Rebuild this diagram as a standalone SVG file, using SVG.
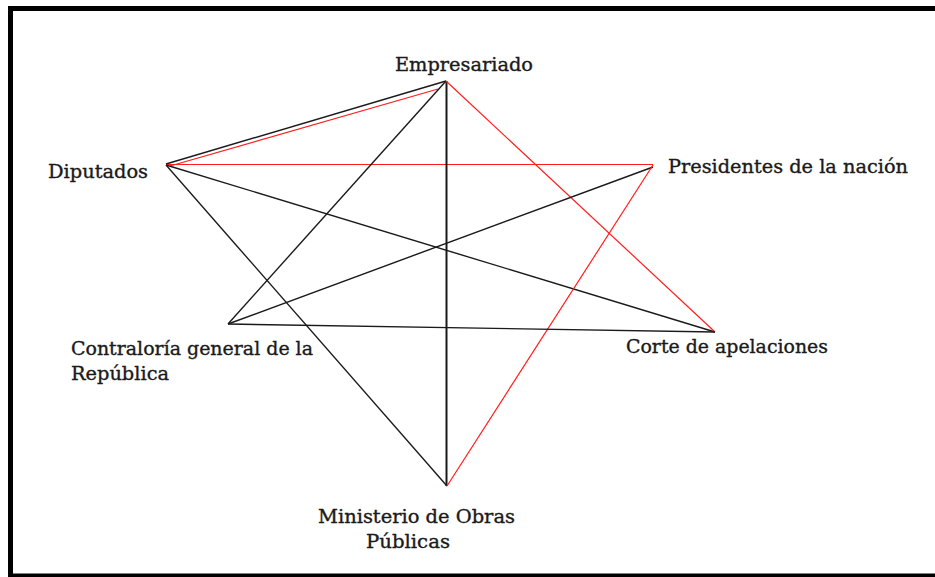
<svg xmlns="http://www.w3.org/2000/svg" width="935" height="577" viewBox="0 0 935 577">
<style>
.lbl{font-family:"DejaVu Serif","Liberation Serif",serif;font-size:19px;fill:#1a1a1a;stroke:#1a1a1a;stroke-width:0.35}
.k{stroke:#1a1a1a;stroke-width:1.4;fill:none}
.r{stroke:#ff1e1e;stroke-width:1.2;fill:none}
.frame{stroke:#000;stroke-width:5;fill:none}
</style>
<rect width="935" height="577" fill="#fff"/>
<g id="frame">
<line class="frame" x1="8" y1="8.5" x2="935" y2="8.5"/>
<line class="frame" x1="10.5" y1="6" x2="10.5" y2="577"/>
<line class="frame" x1="8" y1="576" x2="935" y2="576"/>
</g>
<g id="connectors">
<line class="k" x1="166" y1="164" x2="446" y2="81"/>
<line class="r" x1="170" y1="166" x2="438" y2="89"/>
<line class="r" x1="166" y1="164.5" x2="653" y2="164.5"/>
<line class="k" x1="166" y1="165" x2="715" y2="332"/>
<line class="k" x1="166" y1="165" x2="447" y2="486"/>
<line class="k" x1="446" y1="81" x2="228" y2="324"/>
<line class="k" x1="446.5" y1="81" x2="446.5" y2="486" style="stroke-width:2"/>
<line class="r" x1="446" y1="81" x2="715" y2="332"/>
<line class="k" x1="653" y1="167" x2="228" y2="324"/>
<line class="r" x1="653" y1="165" x2="447" y2="486"/>
<line class="k" x1="228" y1="324" x2="715" y2="332"/>
</g>
<g id="empresariado"><text class="lbl" x="395" y="71" textLength="138" lengthAdjust="spacingAndGlyphs">Empresariado</text></g>
<g id="diputados"><text class="lbl" x="48" y="178" textLength="100" lengthAdjust="spacingAndGlyphs">Diputados</text></g>
<g id="presidentes"><text class="lbl" x="668" y="173" textLength="240" lengthAdjust="spacingAndGlyphs">Presidentes de la nación</text></g>
<g id="corte"><text class="lbl" x="626" y="353" textLength="202" lengthAdjust="spacingAndGlyphs">Corte de apelaciones</text></g>
<g id="contraloria">
<text class="lbl" x="71" y="355" textLength="242" lengthAdjust="spacingAndGlyphs">Contraloría general de la</text>
<text class="lbl" x="71" y="380" textLength="98" lengthAdjust="spacingAndGlyphs">República</text>
</g>
<g id="ministerio">
<text class="lbl" x="318" y="523" textLength="197" lengthAdjust="spacingAndGlyphs">Ministerio de Obras</text>
<text class="lbl" x="366" y="548" textLength="84" lengthAdjust="spacingAndGlyphs">Públicas</text>
</g>
</svg>
